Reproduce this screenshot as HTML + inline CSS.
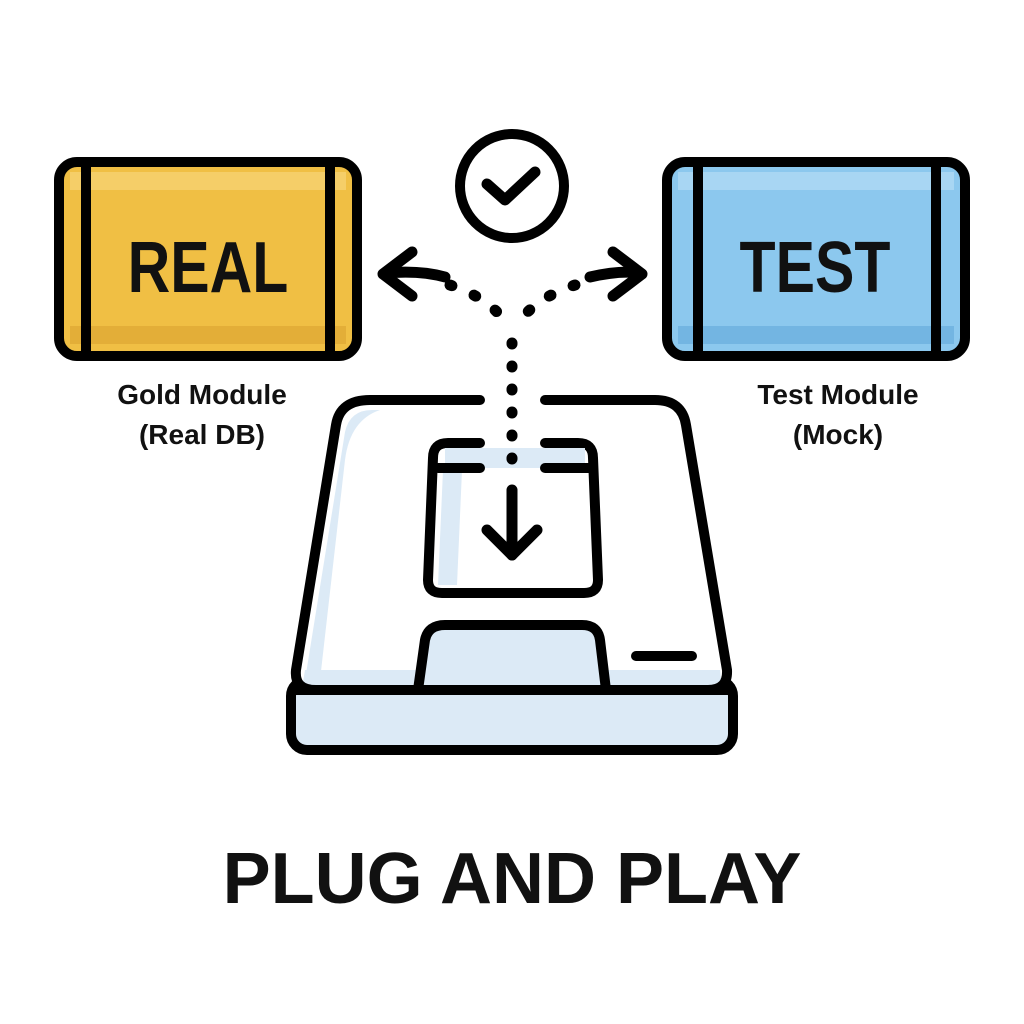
<!DOCTYPE html>
<html><head><style>
html,body{margin:0;padding:0;background:#fff;}
svg{display:block;}
text{font-family:"Liberation Sans",sans-serif;}
</style></head><body>
<svg width="1024" height="1024" viewBox="0 0 1024 1024" xmlns="http://www.w3.org/2000/svg">
<rect width="1024" height="1024" fill="#fff"/>
<!-- REAL box -->
<rect x="59" y="162" width="298" height="194" rx="18" fill="#F0BF44" stroke="#000" stroke-width="10"/>
<rect x="70" y="172" width="276" height="18" fill="#F6D478" opacity="0.7"/>
<rect x="70" y="326" width="276" height="18" fill="#DDA633" opacity="0.7"/>
<line x1="86" y1="162" x2="86" y2="356" stroke="#000" stroke-width="10"/>
<line x1="330" y1="162" x2="330" y2="356" stroke="#000" stroke-width="10"/>
<text x="208" y="292" text-anchor="middle" font-size="72" font-weight="bold" transform="translate(208 0) scale(0.82 1) translate(-208 0)" fill="#111">REAL</text>
<!-- TEST box -->
<rect x="667" y="162" width="298" height="194" rx="18" fill="#8CC8EE" stroke="#000" stroke-width="10"/>
<rect x="678" y="172" width="276" height="18" fill="#B4DCF5" opacity="0.7"/>
<rect x="678" y="326" width="276" height="18" fill="#68ACDD" opacity="0.7"/>
<line x1="698" y1="162" x2="698" y2="356" stroke="#000" stroke-width="10"/>
<line x1="936" y1="162" x2="936" y2="356" stroke="#000" stroke-width="10"/>
<text x="815" y="292" text-anchor="middle" font-size="72" font-weight="bold" transform="translate(815 0) scale(0.82 1) translate(-815 0)" fill="#111">TEST</text>
<!-- labels -->
<text x="202" y="404" text-anchor="middle" font-size="28" font-weight="bold" fill="#111">Gold Module</text>
<text x="202" y="444" text-anchor="middle" font-size="28" font-weight="bold" fill="#111">(Real DB)</text>
<text x="838" y="404" text-anchor="middle" font-size="28" font-weight="bold" fill="#111">Test Module</text>
<text x="838" y="444" text-anchor="middle" font-size="28" font-weight="bold" fill="#111">(Mock)</text>
<!-- check circle -->
<circle cx="512" cy="186" r="52" fill="#fff" stroke="#000" stroke-width="10"/>
<polyline points="487,184 505,200 535,172" fill="none" stroke="#000" stroke-width="11" stroke-linecap="round" stroke-linejoin="round"/>
<!-- device -->
<rect x="291" y="680" width="442" height="70" rx="16" fill="#DCEAF6" stroke="#000" stroke-width="10"/>
<path d="M370,400 L655,400 Q682,400 686,425 L727,670 Q728,690 708,690 L316,690 Q294,690 296,670 L336,425 Q340,400 370,400 Z" fill="#fff"/>
<path d="M345,432 Q350,410 372,410 L380,410 Q350,420 345,460 L320,680 L305,680 Z" fill="#DCEAF6"/>
<path d="M305,670 L720,670 L722,688 L302,688 Z" fill="#DCEAF6"/>
<path d="M480,400 L370,400 Q340,400 336,425 L296,670 Q294,690 316,690 L708,690 Q728,690 727,670 L686,425 Q682,400 655,400 L545,400" fill="none" stroke="#000" stroke-width="10" stroke-linecap="round" stroke-linejoin="round"/>
<!-- slot -->
<path d="M480,443 L448,443 Q433,443 433,458 L428,580 Q428,593 442,593 L584,593 Q598,593 598,580 L593,458 Q593,443 578,443 L545,443" fill="#fff" stroke="#000" stroke-width="10" stroke-linecap="round"/>
<rect x="445" y="448" width="140" height="20" fill="#DCEAF6"/>
<path d="M443,470 L462,470 L457,585 L438,585 Z" fill="#DCEAF6"/>
<line x1="438" y1="468" x2="480" y2="468" stroke="#000" stroke-width="10" stroke-linecap="round"/>
<line x1="545" y1="468" x2="590" y2="468" stroke="#000" stroke-width="10" stroke-linecap="round"/>
<!-- bottom tab -->
<path d="M418,690 L425,640 Q428,625 445,625 L582,625 Q598,625 600,640 L606,690" fill="#DCEAF6" stroke="#000" stroke-width="10" stroke-linejoin="round"/>
<line x1="636" y1="656" x2="692" y2="656" stroke="#000" stroke-width="10" stroke-linecap="round"/>
<line x1="293" y1="690" x2="731" y2="690" stroke="#000" stroke-width="10"/>
<!-- arrows -->
<g fill="none" stroke="#000" stroke-width="11" stroke-linecap="round" stroke-linejoin="round">
<polyline points="412,252 383,274 412,296"/>
<polyline points="613,252 642,274 613,296"/>
<path d="M386,273 Q420,270 445,277"/>
<path d="M590,277 Q620,270 640,273"/>
<path d="M450,285 Q495,300 510,330" stroke-dasharray="2 24"/>
<path d="M575,285 Q530,300 514,330" stroke-dasharray="2 24"/>
<line x1="512" y1="343" x2="512" y2="470" stroke-dasharray="1 22"/>
<line x1="512" y1="490" x2="512" y2="555"/>
<polyline points="487,530 512,555 537,530"/>
</g>
<!-- title -->
<text x="512" y="903" text-anchor="middle" font-size="72" font-weight="bold" fill="#111">PLUG AND PLAY</text>
</svg>
</body></html>
